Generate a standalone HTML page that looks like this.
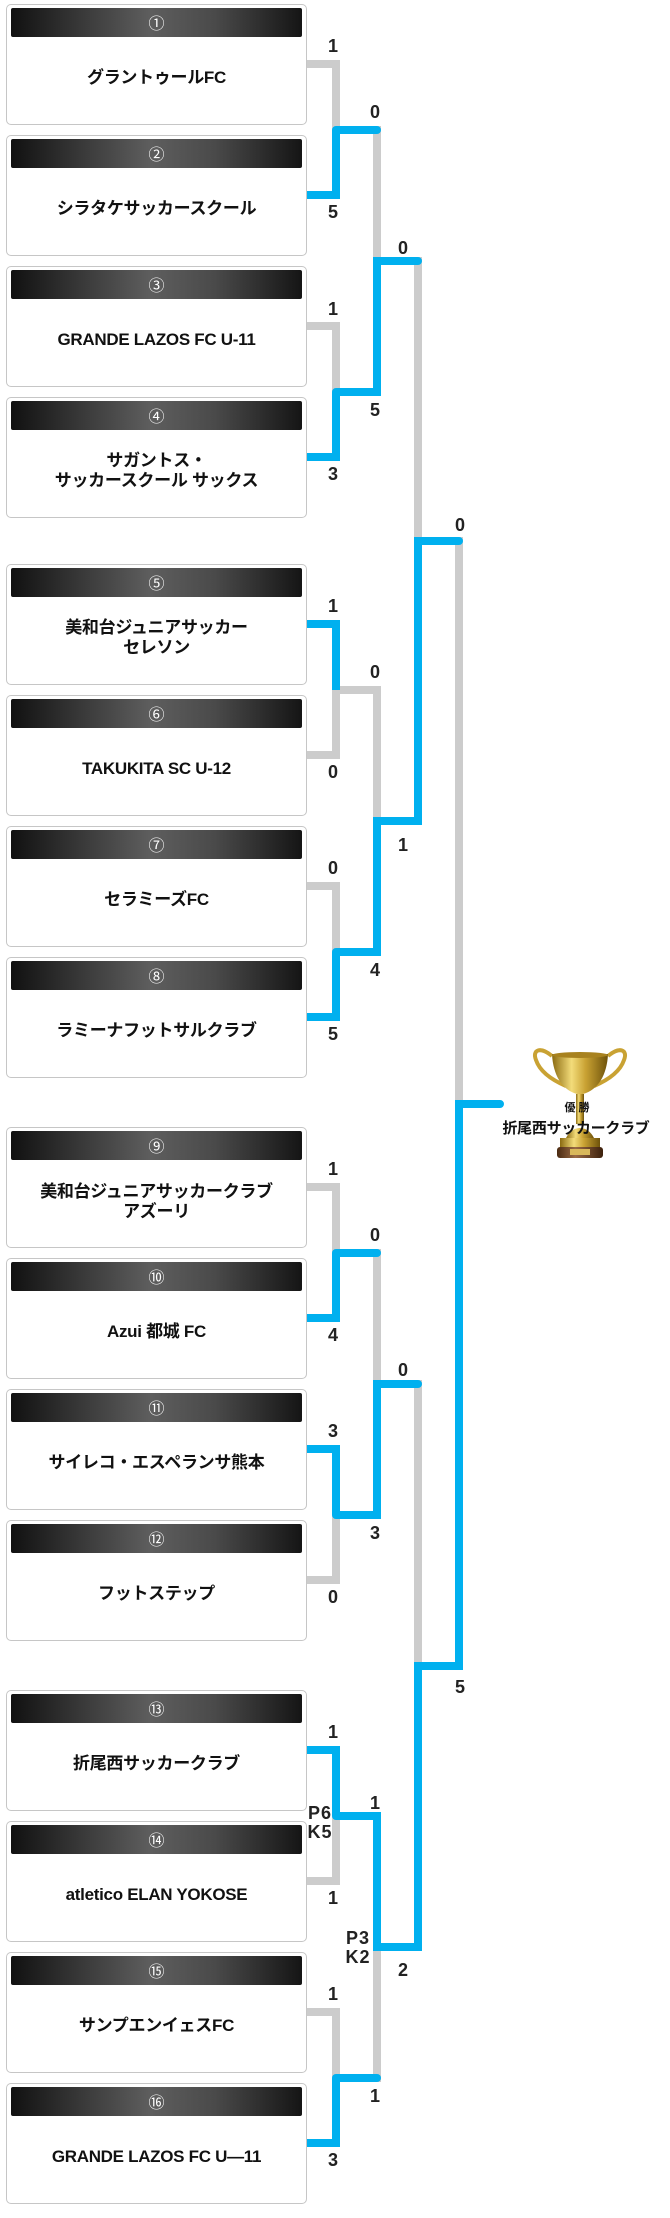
<!DOCTYPE html>
<html><head><meta charset="utf-8"><style>
html,body{margin:0;padding:0;background:#fff;}
body{width:670px;height:2218px;position:relative;overflow:hidden;font-family:"Liberation Sans","Noto Sans CJK JP",sans-serif;}
.box{position:absolute;left:6px;width:299px;height:119px;border:1px solid #c6c6c6;border-radius:5px;background:#fff;}
.hd{position:absolute;left:4px;top:3px;width:291px;height:29px;border-radius:2px;background:linear-gradient(to right,#111 0%,#3a3a3a 25%,#5e5e5e 48%,#4a4a4a 70%,#151515 100%);color:#fff;text-align:center;line-height:29px;font-size:16px;font-family:"Noto Sans CJK JP","DejaVu Sans",sans-serif;}
.nm{position:absolute;left:0;width:299px;text-align:center;font-weight:bold;font-size:17px;line-height:20px;color:#111;white-space:nowrap;letter-spacing:-0.3px;}
svg{position:absolute;left:0;top:0;}
.s{font-family:"Liberation Sans Narrow","Liberation Sans",sans-serif;font-weight:bold;font-size:18px;fill:#222;text-anchor:middle;}
</style></head><body>
<svg width="670" height="2218" viewBox="0 0 670 2218">
<g fill="none" stroke="#cccccc" stroke-width="8" stroke-linejoin="miter">
<!-- G1 -->
<polyline points="300,64 336,64 336,130"/>
<polyline points="300,326 336,326 336,392"/>
<line x1="377" y1="130" x2="377" y2="261" stroke-linecap="square"/>
<line x1="418" y1="261" x2="418" y2="541" stroke-linecap="square"/>
<!-- G2 -->
<polyline points="300,755 336,755 336,690"/>
<polyline points="300,886 336,886 336,952"/>
<line x1="336" y1="690" x2="377" y2="690" stroke-linecap="round"/>
<line x1="377" y1="690" x2="377" y2="821" stroke-linecap="square"/>
<line x1="459" y1="541" x2="459" y2="1104" stroke-linecap="square"/>
<!-- G3 -->
<polyline points="300,1187 336,1187 336,1253"/>
<polyline points="300,1580 336,1580 336,1515"/>
<line x1="377" y1="1253" x2="377" y2="1384" stroke-linecap="square"/>
<line x1="418" y1="1384" x2="418" y2="1666" stroke-linecap="square"/>
<!-- G4 -->
<polyline points="300,1881 336,1881 336,1816"/>
<polyline points="300,2012 336,2012 336,2078"/>
<line x1="377" y1="2078" x2="377" y2="1947" stroke-linecap="square"/>
</g>
<g fill="none" stroke="#00b0ef" stroke-width="8" stroke-linejoin="miter" stroke-linecap="round">
<!-- G1 -->
<polyline points="300,195 336,195 336,130" stroke-linecap="butt"/>
<polyline points="300,457 336,457 336,392" stroke-linecap="butt"/>
<line x1="336" y1="130" x2="377" y2="130"/>
<polyline points="336,392 377,392 377,261 418,261"/>
<!-- G2 -->
<polyline points="300,624 336,624 336,690" stroke-linecap="butt"/>
<polyline points="300,1017 336,1017 336,952" stroke-linecap="butt"/>
<polyline points="336,952 377,952 377,821 418,821 418,541 459,541"/>
<!-- G3 -->
<polyline points="300,1318 336,1318 336,1253" stroke-linecap="butt"/>
<polyline points="300,1449 336,1449 336,1515" stroke-linecap="butt"/>
<line x1="336" y1="1253" x2="377" y2="1253"/>
<polyline points="336,1515 377,1515 377,1384 418,1384"/>
<!-- G4 -->
<polyline points="300,1750 336,1750 336,1816" stroke-linecap="butt"/>
<polyline points="300,2143 336,2143 336,2078" stroke-linecap="butt"/>
<line x1="336" y1="2078" x2="377" y2="2078"/>
<polyline points="336,1816 377,1816 377,1947 418,1947 418,1666 459,1666 459,1104 500,1104"/>
</g>
<g class="s">
<text class="s" x="333" y="52">1</text><text class="s" x="333" y="218">5</text>
<text class="s" x="333" y="315">1</text><text class="s" x="333" y="480">3</text>
<text class="s" x="333" y="612">1</text><text class="s" x="333" y="778">0</text>
<text class="s" x="333" y="874">0</text><text class="s" x="333" y="1040">5</text>
<text class="s" x="333" y="1175">1</text><text class="s" x="333" y="1341">4</text>
<text class="s" x="333" y="1437">3</text><text class="s" x="333" y="1603">0</text>
<text class="s" x="333" y="1738">1</text><text class="s" x="333" y="1904">1</text>
<text class="s" x="333" y="2000">1</text><text class="s" x="333" y="2166">3</text>
<text class="s" x="375" y="118">0</text><text class="s" x="375" y="416">5</text>
<text class="s" x="375" y="678">0</text><text class="s" x="375" y="976">4</text>
<text class="s" x="375" y="1241">0</text><text class="s" x="375" y="1539">3</text>
<text class="s" x="375" y="1809">1</text><text class="s" x="375" y="2102">1</text>
<text class="s" x="403" y="254">0</text><text class="s" x="403" y="851">1</text>
<text class="s" x="403" y="1376">0</text><text class="s" x="403" y="1976">2</text>
<text class="s" x="460" y="531">0</text><text class="s" x="460" y="1693">5</text>
<text class="s" x="320" y="1819" letter-spacing="1">P6</text><text class="s" x="320" y="1838" letter-spacing="1">K5</text>
<text class="s" x="358" y="1944" letter-spacing="1">P3</text><text class="s" x="358" y="1963" letter-spacing="1">K2</text>
</g>
<!-- trophy -->
<defs>
<linearGradient id="gold" x1="0" x2="1" y1="0" y2="0">
<stop offset="0" stop-color="#8a6a10"/><stop offset="0.35" stop-color="#f3dc7a"/><stop offset="0.6" stop-color="#c9a233"/><stop offset="1" stop-color="#6e520a"/>
</linearGradient>
<linearGradient id="brown" x1="0" x2="1"><stop offset="0" stop-color="#4a2a12"/><stop offset="0.4" stop-color="#9a6a44"/><stop offset="1" stop-color="#3c200c"/></linearGradient>
</defs>
<g>
<path d="M552,1056 C540,1046 532,1050 536,1060 C540,1072 552,1080 566,1086" fill="none" stroke="#c9a233" stroke-width="4"/>
<path d="M608,1056 C620,1046 628,1050 624,1060 C620,1072 608,1080 594,1086" fill="none" stroke="#c9a233" stroke-width="4"/>
<path d="M552,1054 L608,1054 C607,1075 598,1090 583,1094 L577,1094 C562,1090 553,1075 552,1054 Z" fill="url(#gold)"/>
<ellipse cx="580" cy="1055" rx="28" ry="3" fill="#a8821f"/>
<rect x="576" y="1094" width="8" height="30" fill="url(#gold)"/>
<path d="M566,1138 C570,1130 576,1128 580,1128 C584,1128 590,1130 594,1138 Z" fill="url(#gold)"/>
<rect x="560" y="1138" width="40" height="9" fill="url(#gold)"/>
<rect x="557" y="1147" width="46" height="11" rx="3" fill="url(#brown)"/>
<rect x="570" y="1149" width="20" height="6" fill="#d9b85a"/>
<text x="577" y="1111" font-family="'Liberation Sans','Noto Sans CJK JP',sans-serif" font-weight="bold" font-size="11" text-anchor="middle" fill="#111">優 勝</text>
<text x="576" y="1133" font-family="'Liberation Sans','Noto Sans CJK JP',sans-serif" font-weight="bold" font-size="15" text-anchor="middle" fill="#111" letter-spacing="-0.3">折尾西サッカークラブ</text>
</g>
</svg>

<div class="box" style="top:4px"><div class="hd">①</div><div class="nm" style="top:63px">グラントゥールFC</div></div>
<div class="box" style="top:135px"><div class="hd">②</div><div class="nm" style="top:63px">シラタケサッカースクール</div></div>
<div class="box" style="top:266px"><div class="hd">③</div><div class="nm" style="top:63px">GRANDE LAZOS FC U-11</div></div>
<div class="box" style="top:397px"><div class="hd">④</div><div class="nm" style="top:53px">サガントス・<br>サッカースクール サックス</div></div>

<div class="box" style="top:564px"><div class="hd">⑤</div><div class="nm" style="top:53px">美和台ジュニアサッカー<br>セレソン</div></div>
<div class="box" style="top:695px"><div class="hd">⑥</div><div class="nm" style="top:63px">TAKUKITA SC U-12</div></div>
<div class="box" style="top:826px"><div class="hd">⑦</div><div class="nm" style="top:63px">セラミーズFC</div></div>
<div class="box" style="top:957px"><div class="hd">⑧</div><div class="nm" style="top:63px">ラミーナフットサルクラブ</div></div>

<div class="box" style="top:1127px"><div class="hd">⑨</div><div class="nm" style="top:54px">美和台ジュニアサッカークラブ<br>アズーリ</div></div>
<div class="box" style="top:1258px"><div class="hd">⑩</div><div class="nm" style="top:63px">Azui 都城 FC</div></div>
<div class="box" style="top:1389px"><div class="hd">⑪</div><div class="nm" style="top:63px">サイレコ・エスペランサ熊本</div></div>
<div class="box" style="top:1520px"><div class="hd">⑫</div><div class="nm" style="top:63px">フットステップ</div></div>

<div class="box" style="top:1690px"><div class="hd">⑬</div><div class="nm" style="top:63px">折尾西サッカークラブ</div></div>
<div class="box" style="top:1821px"><div class="hd">⑭</div><div class="nm" style="top:63px">atletico ELAN YOKOSE</div></div>
<div class="box" style="top:1952px"><div class="hd">⑮</div><div class="nm" style="top:63px">サンプエンイェスFC</div></div>
<div class="box" style="top:2083px"><div class="hd">⑯</div><div class="nm" style="top:63px">GRANDE LAZOS FC U—11</div></div>
</body></html>
